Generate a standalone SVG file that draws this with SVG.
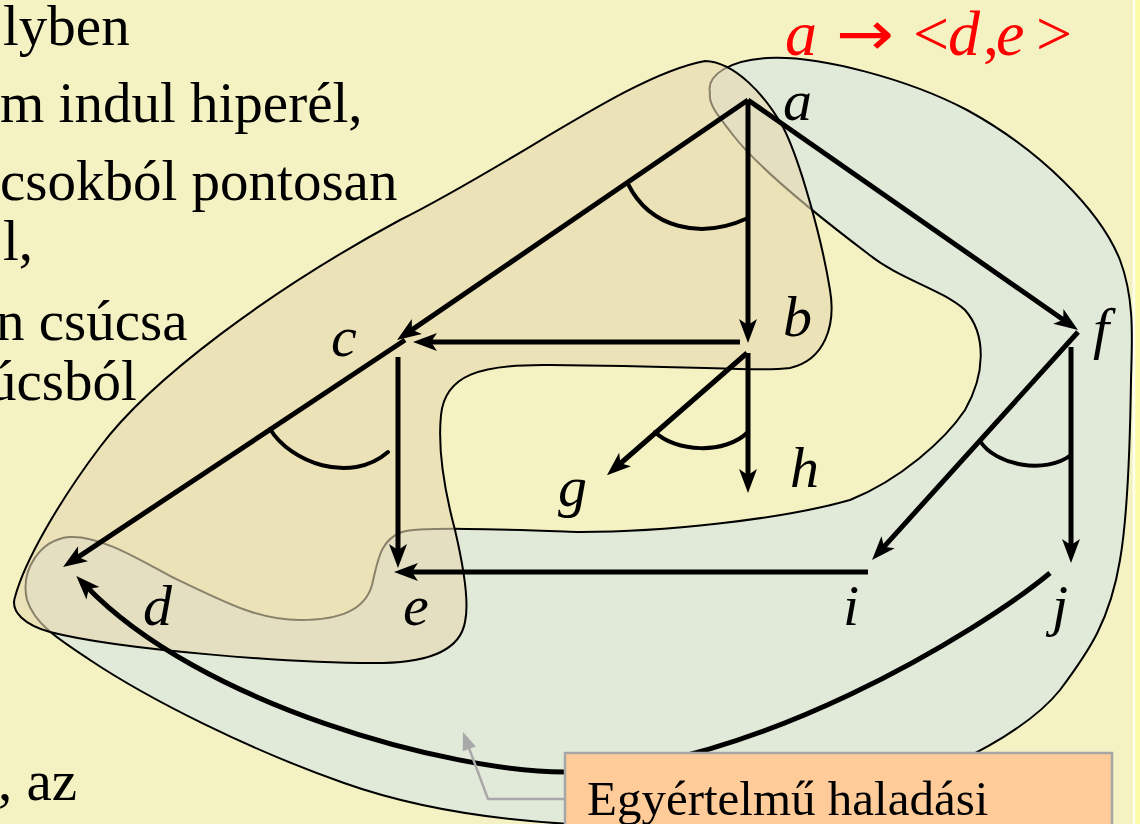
<svg xmlns="http://www.w3.org/2000/svg" width="1140" height="824" viewBox="0 0 1140 824">
<style>
.txt{font-family:"Liberation Serif","Times New Roman",serif;fill:#000}
.slide{font-size:57px}
.lbl{font-size:58px;font-style:italic}
.red{font-family:"Liberation Serif","Times New Roman",serif;font-size:64px;fill:#FF0000}
.sym{font-family:"DejaVu Sans",sans-serif;font-size:62px;fill:#FF0000}
.it{font-style:italic}
.edge{stroke:#000;stroke-width:5;fill:none;marker-end:url(#ah)}
.arc{stroke:#000;stroke-width:4;fill:none;stroke-linecap:round}
.blob{stroke:#000;stroke-width:2}
</style>
<defs>
<marker id="ah" viewBox="-12 -12 28 24" refX="0" refY="0" markerWidth="28" markerHeight="24" markerUnits="userSpaceOnUse" orient="auto">
<path d="M14,0 L-10,-9 L-4,0 L-10,9 Z" fill="#000"/>
</marker>
<marker id="gh" viewBox="-8 -9 22 18" refX="0" refY="0" markerWidth="22" markerHeight="18" markerUnits="userSpaceOnUse" orient="auto">
<path d="M12,0 L-6,-7 L-6,7 Z" fill="#A8A8A8"/>
</marker>
</defs>

<rect x="0" y="0" width="1140" height="824" fill="#F4F2C2"/>
<rect x="1135" y="0" width="5" height="824" fill="#FCFBA8"/>
<line x1="1134" y1="0" x2="1134" y2="824" stroke="#FFFFF0" stroke-width="2.5"/>

<g id="regions">
<path id="region-blue" class="blob" fill="#E1EAD9" d="M710,93 C706,75 730,60 767,58 C820,55 910,80 967,110 C1040,150 1100,210 1120,260 C1135,300 1132,340 1131,380 C1130,450 1127,520 1120,560 C1110,620 1090,650 1060,690 C1020,740 900,800 750,830 C650,835 600,826 570,824 C500,820 420,810 344,783 C250,750 150,700 90,660 C60,640 35,625 27,600 C20,570 40,540 69,537 C100,535 140,560 172,577 C230,605 260,620 300,620 C340,620 365,610 372,585 C378,560 380,540 402,532 C420,526 520,530 580,532 C660,532 780,520 850,500 C900,480 945,440 965,410 C985,375 987,335 965,310 C940,288 900,280 867,253 C830,225 760,170 733,135 C720,118 708,105 710,93 Z"/>
<path id="region-tan" class="blob" fill="#E6D7B1" fill-opacity="0.6" d="M705,61 C735,62 765,95 783,127 C800,160 822,240 830,290 C836,325 825,360 790,368 C760,372 700,366 550,365 C480,364 445,375 441,415 C437,455 447,500 455,530 C462,560 470,600 465,622 C460,650 430,662 383,663 C300,664 120,650 50,632 C25,625 10,612 15,597 C25,560 60,500 100,447 C150,380 270,290 400,220 C520,160 630,75 705,61 Z"/>
</g>

<g id="slide-text" class="txt slide">
<text x="3" y="45">lyben</text>
<text x="0" y="122">m indul hiperél,</text>
<text x="0" y="200">csokból pontosan</text>
<text x="3" y="260">l,</text>
<text x="-4" y="340">n csúcsa</text>
<text x="-12" y="400">úcsból</text>
<text x="-2" y="800">, az</text>
</g>

<g id="title">
<text class="red it" x="785" y="55">a</text>
<text class="sym" x="836" y="55" textLength="58" lengthAdjust="spacingAndGlyphs">→</text>
<text class="red" x="913" y="55">&lt;</text>
<text class="red it" x="948" y="55">d</text>
<text class="red" x="983" y="55">,</text>
<text class="red it" x="996" y="55">e</text>
<text class="red" x="1036" y="55">&gt;</text>
</g>

<g id="connectors">
<line class="edge" x1="748" y1="100" x2="408.6" y2="332.1"/>
<line class="edge" x1="748" y1="100" x2="748" y2="329"/>
<line class="edge" x1="748" y1="100" x2="1066.5" y2="322"/>
<line class="edge" x1="740" y1="342" x2="427" y2="342"/>
<line class="edge" x1="405" y1="340" x2="74.7" y2="559.3"/>
<line class="edge" x1="398" y1="357" x2="398" y2="554"/>
<line class="edge" x1="747" y1="353" x2="617.5" y2="466"/>
<line class="edge" x1="748" y1="353" x2="748" y2="479"/>
<line class="edge" x1="1078" y1="332" x2="881.4" y2="549.6"/>
<line class="edge" x1="1071" y1="347" x2="1071" y2="549"/>
<line class="edge" x1="868" y1="572" x2="408" y2="572"/>
<path class="edge" d="M1050,573 C980,631 750,772 565,772 C450,772 200,705 86,586"/>
<path class="arc" d="M628,184 C650,228 700,240 748,218"/>
<path class="arc" d="M655,432 C675,452 725,455 748,432"/>
<path class="arc" d="M270,429 C290,462 350,485 388,452"/>
<path class="arc" d="M980,441 C995,465 1045,475 1071,455"/>
</g>

<g id="node-a"><text class="txt lbl" x="783" y="120">a</text></g>
<g id="node-b"><text class="txt lbl" x="783" y="336">b</text></g>
<g id="node-c"><text class="txt lbl" x="331" y="356">c</text></g>
<g id="node-d"><text class="txt lbl" x="143" y="625">d</text></g>
<g id="node-e"><text class="txt lbl" x="403" y="625">e</text></g>
<g id="node-f"><text class="txt lbl" x="1093" y="348">f</text></g>
<g id="node-g"><text class="txt lbl" x="558" y="506">g</text></g>
<g id="node-h"><text class="txt lbl" x="790" y="487">h</text></g>
<g id="node-i"><text class="txt lbl" x="843" y="625">i</text></g>
<g id="node-j"><text class="txt lbl" x="1052" y="625">j</text></g>

<g id="note">
<polyline points="565,799 488,799 467.2,743.2" fill="none" stroke="#A8A8A8" stroke-width="2.5" marker-end="url(#gh)"/>
<rect x="565" y="753" width="547" height="80" fill="#FFCC99" stroke="#A6A6A6" stroke-width="2.5"/>
<text class="txt" x="587" y="815" font-size="49">Egyértelmű haladási</text>
</g>
</svg>
